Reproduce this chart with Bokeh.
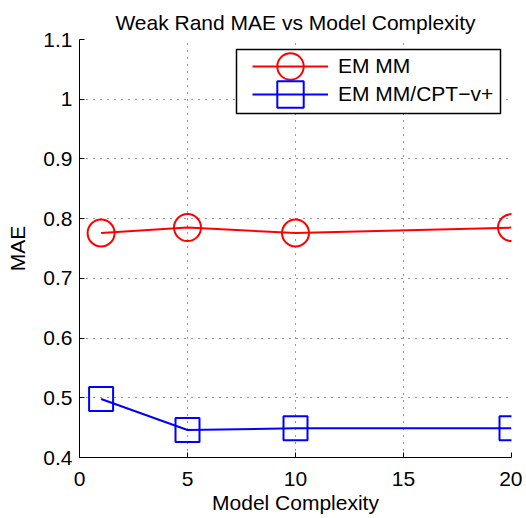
from bokeh.plotting import figure
from bokeh.models import Range1d, FixedTicker, Legend, LegendItem, BoxAnnotation
from bokeh.embed import file_html
from bokeh.resources import INLINE

title_text = "Weak Rand MAE vs Model Complexity"
x_label = "Model Complexity"
y_label = "MAE"
complexity = [1, 5, 10, 20]
em_mm = [0.776, 0.785, 0.776, 0.785]
em_mm_cpt = [0.498, 0.446, 0.449, 0.449]
series_names = ["EM MM", "EM MM/CPT\u2212v+"]
x_ticks = [0, 5, 10, 15, 20]
y_ticks = [0.4, 0.5, 0.6, 0.7, 0.8, 0.9, 1.0, 1.1]
y_tick_labels = ["0.4", "0.5", "0.6", "0.7", "0.8", "0.9", "1", "1.1"]

FONT = "Liberation Sans"
FS = "21px"

p = figure(width=522, height=516, x_range=Range1d(0, 20), y_range=Range1d(0.4, 1.1),
           output_backend="svg", toolbar_location=None,
           min_border_left=79, min_border_right=11, min_border_top=39, min_border_bottom=59)
p.outline_line_color = None
p.background_fill_color = "white"
p.border_fill_color = "white"

p.title.text = title_text
p.title.text_font = FONT
p.title.text_font_size = FS
p.title.text_font_style = "normal"
p.title.text_color = "black"
p.title.align = "center"
p.title.standoff = 12

p.xaxis.ticker = FixedTicker(ticks=x_ticks)
p.yaxis.ticker = FixedTicker(ticks=y_ticks)
p.yaxis.major_label_overrides = dict(zip(y_ticks, y_tick_labels))
p.xaxis.axis_label = x_label
p.yaxis.axis_label = y_label
for ax in (p.xaxis[0], p.yaxis[0]):
    ax.axis_line_color = "black"
    ax.axis_line_width = 1
    ax.major_tick_in = 5
    ax.major_tick_out = 0
    ax.major_tick_line_color = "black"
    ax.minor_tick_line_color = None
    ax.major_label_text_font = FONT
    ax.major_label_text_font_size = FS
    ax.major_label_text_color = "black"
    ax.axis_label_text_font = FONT
    ax.axis_label_text_font_size = FS
    ax.axis_label_text_font_style = "normal"
    ax.axis_label_text_color = "black"
p.xaxis.major_label_standoff = 14
p.xaxis.axis_label_standoff = 2
p.yaxis.major_label_standoff = 7
p.yaxis.axis_label_standoff = 11

for g in (p.xgrid[0], p.ygrid[0]):
    g.grid_line_color = "black"
    g.grid_line_dash = "1 6"
    g.grid_line_alpha = 0.8
    g.grid_line_width = 1

l1 = p.line(complexity, em_mm, line_color="#ff0000", line_width=2)
s1 = p.scatter(complexity, em_mm, marker="circle", size=27, line_color="#ff0000",
               line_width=2, fill_alpha=0)
l2 = p.line(complexity, em_mm_cpt, line_color="#0000ff", line_width=2)
s2 = p.scatter(complexity, em_mm_cpt, marker="square", size=24, line_color="#0000ff",
               line_width=2, fill_alpha=0)

box = BoxAnnotation(left=157, right=421, bottom=344, top=408,
                    left_units="screen", right_units="screen",
                    bottom_units="screen", top_units="screen",
                    fill_color="white", fill_alpha=1.0,
                    line_color="black", line_alpha=1.0, line_width=1.5)
p.add_layout(box)

legend_common = dict(orientation="vertical", glyph_width=76, glyph_height=66,
                     label_standoff=10, padding=0, margin=0,
                     background_fill_alpha=0, border_line_alpha=0,
                     label_text_font=FONT, label_text_font_size=FS,
                     label_height=20, label_text_color="black")
legend1 = Legend(items=[LegendItem(label=series_names[0], renderers=[l1, s1])],
                 location=(173, 358), **legend_common)
legend2 = Legend(items=[LegendItem(label=series_names[1], renderers=[l2, s2])],
                 location=(173, 330), **legend_common)
p.add_layout(legend1)
p.add_layout(legend2)

open("out.html", "w").write(file_html(p, INLINE))
